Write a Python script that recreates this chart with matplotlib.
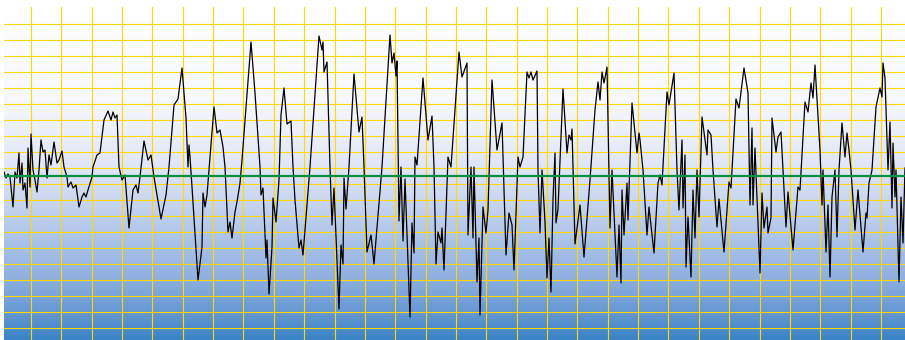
import numpy as np
import matplotlib
matplotlib.use("Agg")
import matplotlib.pyplot as plt
from matplotlib.colors import LinearSegmentedColormap

# sample positions and signal level (baseline = 0)
t = [0, 2, 4, 6, 9, 11, 13, 15, 16, 18, 19, 21, 23, 24, 26, 27, 29, 31, 33, 35,
     37, 39, 41, 43, 45, 47, 50, 53, 55, 58, 60, 63, 64, 67, 69, 72, 75, 78, 80, 82,
     84, 88, 89, 93, 96, 100, 104, 107, 109, 111, 113, 115, 118, 121, 125, 129, 132, 134, 136, 140,
     144, 147, 150, 157, 162, 165, 170, 174, 178, 182, 184, 185, 186, 188, 194, 198, 199, 201, 203, 205,
     210, 213, 216, 219, 221, 224, 226, 228, 231, 233, 236, 238, 247, 251, 256, 257, 259, 262, 263, 265,
     268, 269, 272, 275, 277, 280, 283, 287, 289, 291, 295, 297, 299, 306, 315, 318, 319, 320, 323, 326,
     328, 330, 335, 337, 339, 340, 342, 345, 350, 355, 358, 360, 363, 367, 370, 378, 386, 388, 390, 392,
     393, 395, 397, 399, 401, 406, 408, 410, 411, 413, 419, 424, 428, 430, 432, 434, 437, 438, 440, 444,
     447, 455, 458, 463, 464, 467, 469, 470, 473, 475, 476, 479, 482, 484, 488, 493, 498, 502, 505, 508,
     510, 514, 516, 519, 523, 525, 527, 529, 533, 534, 536, 538, 541, 543, 545, 547, 549, 551, 552, 554,
     559, 563, 565, 567, 568, 571, 576, 580, 586, 591, 594, 596, 598, 600, 603, 606, 608, 610, 613, 615,
     617, 618, 620, 623, 624, 628, 633, 635, 636, 639, 643, 645, 650, 654, 656, 658, 663, 665, 670, 673,
     675, 678, 679, 681, 682, 684, 687, 689, 691, 693, 695, 698, 703, 704, 707, 709, 713, 715, 720, 725,
     727, 732, 735, 740, 744, 746, 748, 749, 751, 756, 758, 760, 763, 764, 767, 768, 772, 774, 777, 779,
     782, 784, 789, 794, 796, 801, 804, 807, 809, 811, 816, 818, 819, 822, 824, 826, 828, 831, 833, 835,
     838, 841, 843, 845, 847, 851, 854, 859, 862, 863, 865, 868, 872, 876, 878, 879, 881, 884, 886, 888,
     889, 891, 892, 894, 895, 897, 899, 901]
level = [4, -2, 2, -1, -31, 4, -2, 23, -7, 13, -14, -7, -32, 28, -11, 42, 6, -4, -16, 6,
         36, 24, 26, -2, 21, 11, 34, 13, 16, 25, 9, -1, -11, -6, -12, -9, -31, -21, -17, -21,
         -14, -1, 9, 21, 23, 56, 65, 56, 64, 58, 61, 9, -4, 1, -52, -14, -9, -17, -1, 35,
         16, 21, -1, -43, -19, 9, 71, 77, 108, 58, 9, 31, 19, -11, -104, -71, -17, -31, -19, 6,
         69, 43, 46, 29, 9, -56, -46, -62, -36, -26, -7, 16, 134, 83, 9, -19, -12, -82, -64, -118,
         -71, -22, -46, -4, 61, 88, 52, 55, 9, -24, -72, -64, -79, 9, 140, 126, 134, 104, 114, 9,
         -49, -12, -133, -69, -88, -2, -33, 9, 102, 44, 59, 9, -76, -59, -88, 9, 141, 113, 123, 100,
         115, -45, 9, -65, -3, -141, -47, -77, 19, 11, 98, 36, 60, 9, -88, -56, -67, -52, -94, 19,
         9, 124, 99, 113, -59, 9, -62, 9, -106, -62, -139, -31, -57, -34, 96, 26, 53, -79, -37, -49,
         -94, 19, 9, 19, 104, 98, 104, 96, 105, 6, -57, 6, -46, -102, -62, -116, -23, 23, -47, -33,
         87, 23, 41, 36, 47, -68, -29, -81, -4, 66, 94, 76, 104, 93, 109, -52, 6, -36, -101, -49,
         -107, -14, -59, -7, -44, 73, 23, 43, 36, 6, -59, -31, -77, -7, 1, -9, 84, 71, 103, 6,
         -34, 36, -32, 21, -91, -41, -101, -14, -62, 6, -41, 59, 21, 46, 41, 6, -51, -23, -76, -6,
         -12, 77, 68, 108, 83, -29, 48, -29, 28, -97, -17, -52, -31, -57, -42, 58, 24, 39, 44, 6,
         -51, -16, -74, -11, -14, 74, 64, 93, 78, 111, 26, -29, 6, -76, -29, -101, -21, 6, -61, 6,
         53, 19, 43, 26, 6, -54, -14, -76, -37, -42, -7, 6, 69, 88, 79, 113, 98, 6, 54, -32,
         33, -21, 6, -71, -106, -21, -67, 8]

baseline = 0
x_range = (0, 901)
y_range = (-164, 169)

fig = plt.figure(figsize=(9.05, 3.4), dpi=100)
ax = fig.add_axes([4 / 905, 0, 901 / 905, 333 / 340])

# background gradient, white at top to blue at bottom
grad = LinearSegmentedColormap.from_list("bg", [
    (0.0, "#3a84c6"), (0.09, "#6a9ad4"), (0.18, "#8eafdf"), (0.33, "#b4c8ea"),
    (0.51, "#dee5f5"), (0.72, "#f6f8fd"), (1.0, "#ffffff")])
ax.imshow(np.linspace(0, 1, 400).reshape(-1, 1), cmap=grad, origin="lower",
          extent=[x_range[0], x_range[1], y_range[0], y_range[1]],
          aspect="auto", zorder=0)

for gx in 27 + 30.357 * np.arange(29):
    ax.axvline(gx, color="#ffd800", lw=0.8, zorder=1)
for gy in np.arange(-152, 153, 16):
    ax.axhline(gy, color="#ffd800", lw=0.8, zorder=1)

ax.plot(t, level, color="black", lw=0.9, zorder=2)
ax.axhline(baseline, color="#0a9040", lw=1.6, zorder=3)

ax.set_xlim(*x_range)
ax.set_ylim(*y_range)
ax.axis("off")

fig.savefig("out.png", dpi=100)
